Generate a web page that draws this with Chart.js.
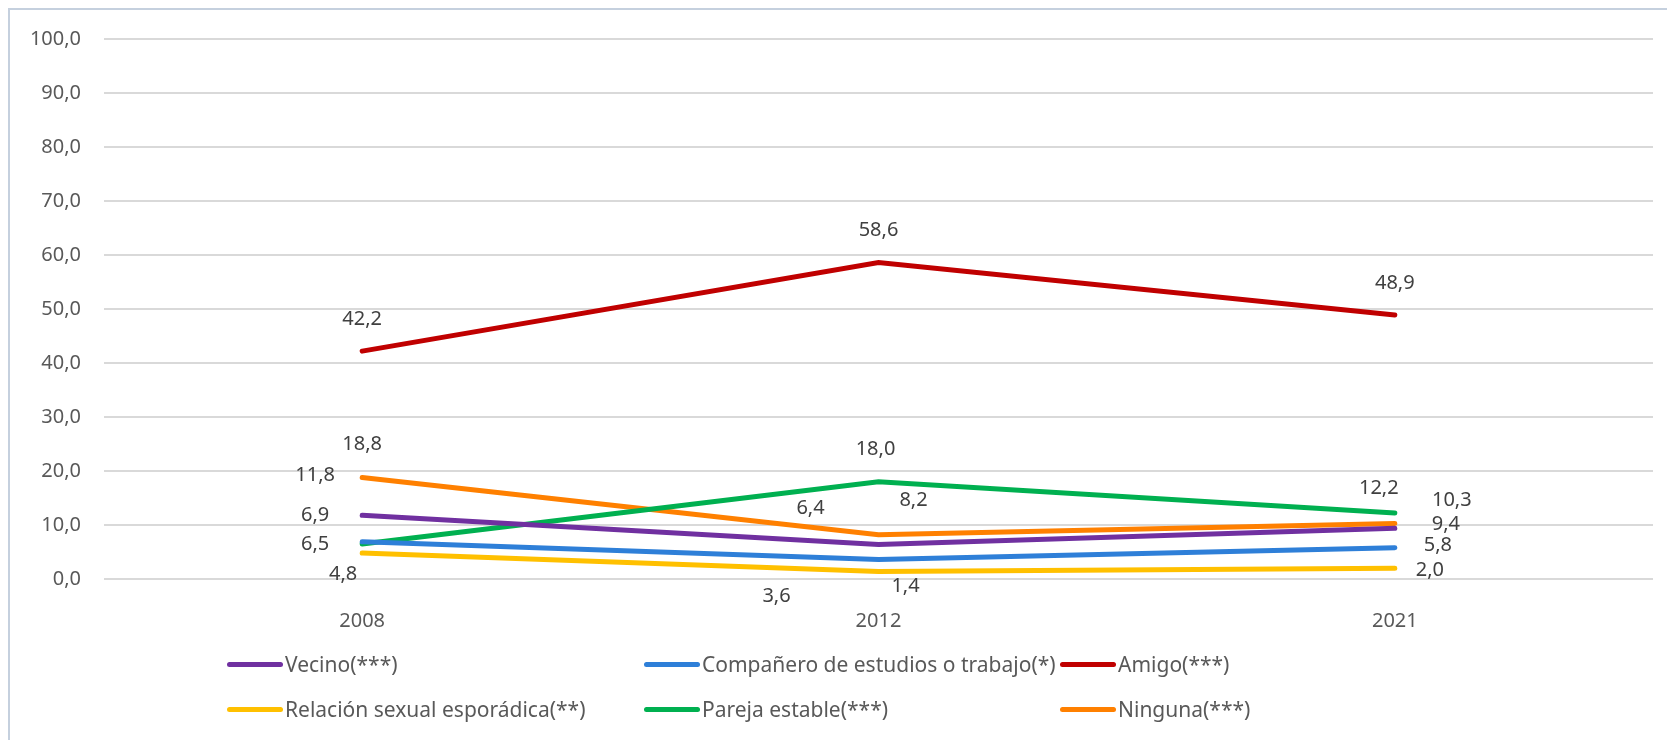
<!DOCTYPE html>
<html>
<head>
<meta charset="utf-8">
<script src="https://cdn.jsdelivr.net/npm/chart.js@4"></script>
<style>
  html, body { margin: 0; padding: 0; background: #fff; }
  #wrap { position: relative; width: 1667px; height: 740px; overflow: hidden; }
  #frame { position: absolute; left: 8px; top: 8px; width: 1700px; height: 800px;
           border: 2px solid #c5d0de; box-sizing: border-box; }
  canvas { position: absolute; left: 0; top: 0; }
  .legend-item { position: absolute; display: flex; align-items: center;
                 font-family: "Noto Sans", sans-serif; font-size: 21px; color: #595959;
                 transform: translateY(-50%); white-space: nowrap; }
  .legend-line { width: 56px; height: 5px; border-radius: 3px; margin-right: 2px; }
</style>
</head>
<body>
<div id="wrap">
  <div id="frame"></div>
  <canvas id="lineChart" width="1667" height="740"></canvas>
  <div id="legend"></div>
</div>
<script>
// Years on the x axis
const years = ["2008", "2012", "2021"];

// Percentages per category
const vecino = [11.8, 6.4, 9.4];
const companero = [6.9, 3.6, 5.8];
const amigo = [42.2, 58.6, 48.9];
const relacion = [4.8, 1.4, 2.0];
const pareja = [6.5, 18.0, 12.2];
const ninguna = [18.8, 8.2, 10.3];

// Series names
const seriesNames = [
  "Vecino(***)",
  "Compañero de estudios o trabajo(*)",
  "Amigo(***)",
  "Relación sexual esporádica(**)",
  "Pareja estable(***)",
  "Ninguna(***)",
];

const colors = ["#7030a0", "#2e7fd8", "#c00000", "#ffc000", "#00b050", "#ff8000"];

// where each value label sits, relative to its point (dx, dy in px)
const labelOffsets = [
  [[-47, -40], [-68, -36], [51, -4]],
  [[-47, -26], [-102, 37], [43, -2]],
  [[0, -32], [0, -32], [0, -32]],
  [[-19, 21], [27, 15], [35, 2]],
  [[-47, 0], [-3, -33], [-16, -25]],
  [[0, -33], [35, -34], [57, -23]],
];

const allSeries = [vecino, companero, amigo, relacion, pareja, ninguna];

// Draw the value labels next to each point
const valueLabels = {
  id: "valueLabels",
  afterDatasetsDraw(chart) {
    const ctx = chart.ctx;
    ctx.save();
    ctx.font = "20px 'Noto Sans', sans-serif";
    ctx.fillStyle = "#404040";
    ctx.textAlign = "center";
    ctx.textBaseline = "middle";
    chart.data.datasets.forEach((ds, i) => {
      const meta = chart.getDatasetMeta(i);
      meta.data.forEach((pt, j) => {
        const off = labelOffsets[i][j];
        const txt = ds.data[j].toFixed(1).replace(".", ",");
        ctx.fillText(txt, pt.x + off[0], pt.y + off[1]);
      });
    });
    ctx.restore();
  },
};

const ctx = document.getElementById("lineChart").getContext("2d");
const lineChart = new Chart(ctx, {
  type: "line",
  data: {
    labels: years,
    datasets: allSeries.map((values, i) => ({
      label: seriesNames[i],
      data: values,
      borderColor: colors[i],
      backgroundColor: colors[i],
      borderWidth: 5,
      borderCapStyle: "round",
      pointRadius: 0,
      tension: 0,
      fill: false,
    })),
  },
  options: {
    responsive: false,
    animation: false,
    layout: { padding: { top: 39, right: 14, left: 0, bottom: 0 } },
    plugins: {
      legend: { display: false },
      tooltip: { enabled: false },
    },
    scales: {
      x: {
        offset: true,
        grid: { display: false },
        border: { display: false },
        ticks: {
          color: "#595959",
          padding: 22,
          font: { family: "'Noto Sans', sans-serif", size: 20 },
        },
        afterFit: (scale) => { scale.height = 161; },
      },
      y: {
        min: 0,
        max: 100,
        border: { display: false },
        grid: { color: "#d9d9d9", lineWidth: 2, drawTicks: false },
        ticks: {
          stepSize: 10,
          color: "#595959",
          padding: 23,
          font: { family: "'Noto Sans', sans-serif", size: 20 },
          callback: (v) => v.toFixed(1).replace(".", ","),
        },
        afterFit: (scale) => { scale.width = 104; },
      },
    },
  },
  plugins: [valueLabels],
});

// Build the legend in three columns
const legendBox = document.getElementById("legend");
const colX = [227, 644, 1060];
const rowY = [664, 709];
seriesNames.forEach((name, i) => {
  const item = document.createElement("div");
  item.className = "legend-item";
  item.style.left = colX[i % 3] + "px";
  item.style.top = rowY[Math.floor(i / 3)] + "px";
  item.innerHTML = `<div class="legend-line" style="background:${colors[i]}"></div><span>${name}</span>`;
  legendBox.appendChild(item);
});
</script>
</body>
</html>
